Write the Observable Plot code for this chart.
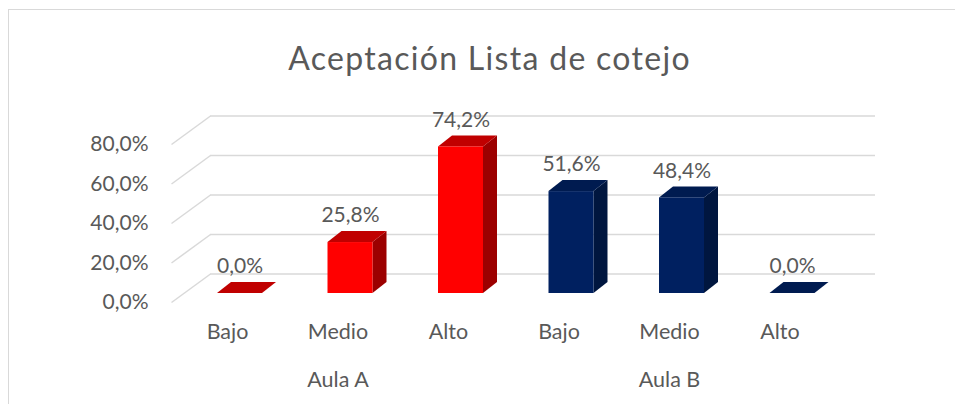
<!DOCTYPE html>
<html>
<head>
<meta charset="utf-8">
<script src="https://cdn.jsdelivr.net/npm/d3@7"></script>
<script src="https://cdn.jsdelivr.net/npm/@observablehq/plot@0.6"></script>
<style>
  html, body { margin: 0; padding: 0; background: #fff; overflow: hidden; }
  #wrap { position: relative; width: 955px; height: 404px; overflow: hidden; }
  #frame { position: absolute; left: 8px; top: 8.5px; width: 1000px; height: 500px;
           border-left: 1.5px solid #d9d9d9; border-top: 1.5px solid #d9d9d9; }
  #chart { position: absolute; left: 0; top: 0; }
  #chart .titulo text { letter-spacing: 1.3px; }
</style>
</head>
<body>
<div id="wrap"><div id="frame"></div><div id="chart"></div></div>
<script>
// ---- data ----
const titulo = "Aceptación Lista de cotejo";
const grupos = ["Aula A", "Aula B"];
const niveles = ["Bajo", "Medio", "Alto"];
const aulaA = [0.000, 0.258, 0.742];
const aulaB = [0.516, 0.484, 0.000];
const yTicks = [0, 0.2, 0.4, 0.6, 0.8];

const valores = {"Aula A": aulaA, "Aula B": aulaB};
const rows = grupos.flatMap((g, gi) => niveles.map((n, ni) => ({
  i: gi * niveles.length + ni, grupo: g, nivel: n, valor: valores[g][ni]
})));

const palette = {
  "Aula A": {front: "#ff0000", top: "#c00000", side: "#9c0000"},
  "Aula B": {front: "#002060", top: "#001b50", side: "#00163f"}
};

const fmt = d3.formatLocale({decimal: ",", thousands: ".", grouping: [3], currency: ["", " €"]}).format(".1%");

// 3D geometry (in scale units)
const pxX = 110.5, pxY = 197.5;
const hw = 22.5 / pxX;         // half width of front face
const ddx = 14 / pxX, ddy = 11 / pxY;   // depth of bars
const slantX1 = (171 - 239.5) / pxX, slantX2 = (210 - 239.5) / pxX;
const gridX2 = (875 - 239.5) / pxX;
const frontDy = 9 / pxY, backDy = 19.5 / pxY;

const topPts = rows.flatMap(r => [
  {i: r.i, g: r.grupo, y: r.valor, x1: r.i - hw, x2: r.i + hw},
  {i: r.i, g: r.grupo, y: r.valor + ddy, x1: r.i - hw + ddx, x2: r.i + hw + ddx}
]);
const sidePts = rows.flatMap(r => [
  {i: r.i, g: r.grupo, x: r.i + hw, y1: 0, y2: r.valor},
  {i: r.i, g: r.grupo, x: r.i + hw + ddx, y1: ddy, y2: r.valor + ddy}
]);

const textFill = "#595959";
const chart = Plot.plot({
  width: 955, height: 404,
  marginLeft: 184.25, marginRight: 107.75, marginTop: 135, marginBottom: 111,
  style: {fontFamily: "Lato, sans-serif", background: "transparent", overflow: "visible"},
  x: {domain: [-0.5, 5.5], axis: null},
  y: {domain: [0, 0.8], axis: null},
  color: {type: "identity"},
  marks: [
    // back gridlines
    Plot.ruleY(yTicks, {y: d => d + backDy, x1: slantX2, x2: gridX2, stroke: "#d9d9d9", strokeWidth: 1.5}),
    // slanted side connectors
    Plot.link(yTicks, {x1: slantX1, y1: d => d - frontDy, x2: slantX2, y2: d => d + backDy, stroke: "#d9d9d9", strokeWidth: 1.5}),
    // y tick labels
    Plot.text(yTicks, {x: slantX1, y: d => d - frontDy, dx: -23, textAnchor: "end", text: d => fmt(d), fontSize: 21, fill: textFill}),
    // bars: side, top, front
    Plot.areaY(sidePts, {x: "x", y1: "y1", y2: "y2", z: "i", fill: d => palette[d.g].side, curve: "linear"}),
    Plot.areaX(topPts, {y: "y", x1: "x1", x2: "x2", z: "i", fill: d => palette[d.g].top, curve: "linear"}),
    Plot.rect(rows, {x1: d => d.i - hw, x2: d => d.i + hw, y1: 0, y2: "valor", fill: d => palette[d.grupo].front}),
    // value labels
    Plot.text(rows, {x: "i", y: "valor", dy: -27, text: d => fmt(d.valor), fontSize: 21, fill: textFill}),
    // category labels
    Plot.text(rows, {x: "i", y: 0, dx: -12.5, dy: 38.5, text: "nivel", fontSize: 21.5, fill: textFill}),
    Plot.text(rows.filter(r => r.nivel === "Medio"), {x: "i", y: 0, dx: -12.5, dy: 86.5, text: "grupo", fontSize: 21.5, fill: textFill}),
    // title
    Plot.text([titulo], {frameAnchor: "top", dx: -26.75, dy: -88, text: d => d, fontSize: 32, fill: textFill, className: "titulo"})
  ]
});
document.getElementById("chart").appendChild(chart);
</script>
</body>
</html>
